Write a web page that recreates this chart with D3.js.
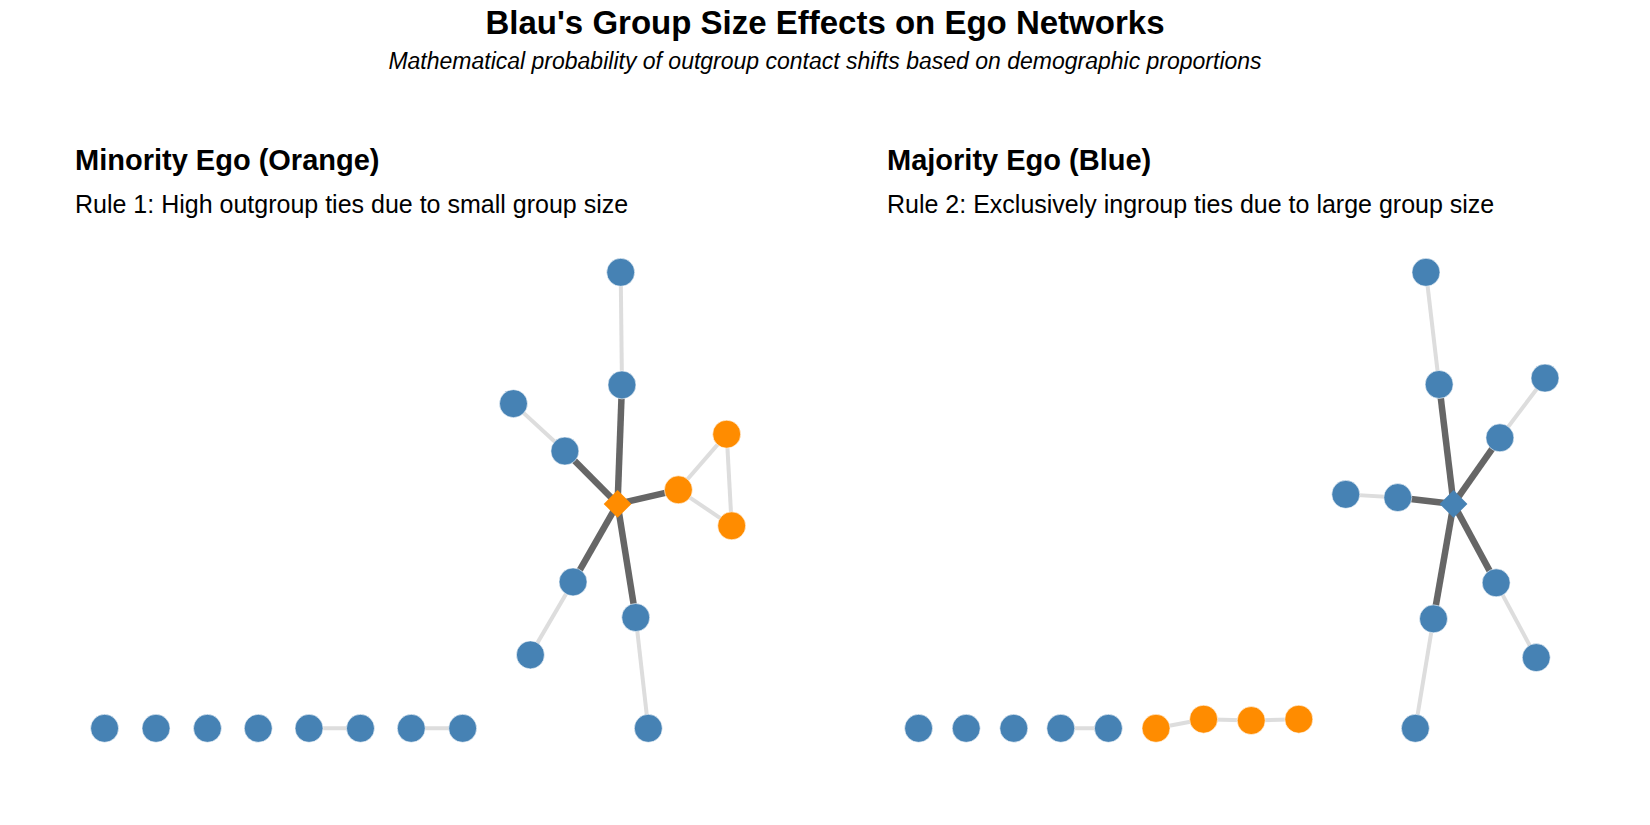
<!DOCTYPE html>
<html>
<head>
<meta charset="utf-8">
<script src="https://cdn.jsdelivr.net/npm/d3@7"></script>
<style>
  body { margin: 0; background: #fff; }
  text { font-family: "Liberation Sans", Arial, Helvetica, sans-serif; }
</style>
</head>
<body>
<div class="chart"></div>
<script>
// layout coordinates (normalised 0..1)
const minorityNodes = [
  { id: 'ego', group: 'orange', x: 0.818, y: 0.492 },
  { id: 'a1', group: 'blue', x: 0.825, y: 0.753 },
  { id: 'a2', group: 'blue', x: 0.823, y: 1.000 },
  { id: 'b1', group: 'blue', x: 0.734, y: 0.608 },
  { id: 'b2', group: 'blue', x: 0.652, y: 0.712 },
  { id: 'c1', group: 'orange', x: 0.915, y: 0.523 },
  { id: 'c2', group: 'orange', x: 0.992, y: 0.645 },
  { id: 'c3', group: 'orange', x: 1.000, y: 0.444 },
  { id: 'd1', group: 'blue', x: 0.747, y: 0.321 },
  { id: 'd2', group: 'blue', x: 0.679, y: 0.161 },
  { id: 'e1', group: 'blue', x: 0.847, y: 0.243 },
  { id: 'e2', group: 'blue', x: 0.867, y: 0.000 },
  { id: 'i1', group: 'blue', x: 0.000, y: 0.000 },
  { id: 'i2', group: 'blue', x: 0.082, y: 0.000 },
  { id: 'i3', group: 'blue', x: 0.164, y: 0.000 },
  { id: 'i4', group: 'blue', x: 0.245, y: 0.000 },
  { id: 'i5', group: 'blue', x: 0.326, y: 0.000 },
  { id: 'i6', group: 'blue', x: 0.408, y: 0.000 },
  { id: 'i7', group: 'blue', x: 0.489, y: 0.000 },
  { id: 'i8', group: 'blue', x: 0.571, y: 0.000 }
];
const minorityEdges = [
  ['ego', 'a1'], ['ego', 'b1'], ['ego', 'c1'], ['ego', 'd1'], ['ego', 'e1'],
  ['a1', 'a2'], ['b1', 'b2'], ['c1', 'c2'], ['c1', 'c3'], ['c2', 'c3'],
  ['d1', 'd2'], ['e1', 'e2'], ['i5', 'i6'], ['i7', 'i8']
];

const majorityNodes = [
  { id: 'ego', group: 'blue', x: 0.854, y: 0.492 },
  { id: 'a1', group: 'blue', x: 0.831, y: 0.754 },
  { id: 'a2', group: 'blue', x: 0.810, y: 1.000 },
  { id: 'b1', group: 'blue', x: 0.928, y: 0.637 },
  { id: 'b2', group: 'blue', x: 1.000, y: 0.768 },
  { id: 'c1', group: 'blue', x: 0.765, y: 0.506 },
  { id: 'c2', group: 'blue', x: 0.682, y: 0.513 },
  { id: 'd1', group: 'blue', x: 0.922, y: 0.319 },
  { id: 'd2', group: 'blue', x: 0.986, y: 0.155 },
  { id: 'e1', group: 'blue', x: 0.822, y: 0.240 },
  { id: 'e2', group: 'blue', x: 0.793, y: 0.000 },
  { id: 'i1', group: 'blue', x: 0.000, y: 0.000 },
  { id: 'i2', group: 'blue', x: 0.076, y: 0.000 },
  { id: 'i3', group: 'blue', x: 0.152, y: 0.000 },
  { id: 'i4', group: 'blue', x: 0.227, y: 0.000 },
  { id: 'i5', group: 'blue', x: 0.303, y: 0.000 },
  { id: 'o1', group: 'orange', x: 0.379, y: 0.000 },
  { id: 'o2', group: 'orange', x: 0.455, y: 0.020 },
  { id: 'o3', group: 'orange', x: 0.531, y: 0.017 },
  { id: 'o4', group: 'orange', x: 0.607, y: 0.020 }
];
const majorityEdges = [
  ['ego', 'a1'], ['ego', 'b1'], ['ego', 'c1'], ['ego', 'd1'], ['ego', 'e1'],
  ['a1', 'a2'], ['b1', 'b2'], ['c1', 'c2'], ['d1', 'd2'], ['e1', 'e2'],
  ['i4', 'i5'], ['o1', 'o2'], ['o2', 'o3'], ['o3', 'o4']
];

const panelTitles = ['Minority Ego (Orange)', 'Majority Ego (Blue)'];
const panelRules = [
  'Rule 1: High outgroup ties due to small group size',
  'Rule 2: Exclusively ingroup ties due to large group size'
];

const width = 1650;
const height = 825;
const colors = { blue: '#4682B4', orange: '#FF8C00' };

let svg = d3.select('.chart')
  .append('svg')
  .attr('width', width)
  .attr('height', height);

svg.append('text')
  .attr('x', width / 2)
  .attr('y', 34)
  .style('text-anchor', 'middle')
  .style('font-size', '33px')
  .style('font-weight', 'bold')
  .text("Blau's Group Size Effects on Ego Networks");

svg.append('text')
  .attr('x', width / 2)
  .attr('y', 69)
  .style('text-anchor', 'middle')
  .style('font-size', '23px')
  .style('font-style', 'italic')
  .text('Mathematical probability of outgroup contact shifts based on demographic proportions');

let panels = [
  { nodes: minorityNodes, edges: minorityEdges, left: 75, xRange: [104.6, 731.7] },
  { nodes: majorityNodes, edges: majorityEdges, left: 887, xRange: [918.6, 1545] }
];

panels.forEach((p, i) => drawPanel(p, panelTitles[i], panelRules[i]));

function drawPanel(p, title, rule) {
  let x = d3.scaleLinear().domain([0, 1]).range(p.xRange);
  let y = d3.scaleLinear().domain([0, 1]).range([728.3, 272.3]);
  let byId = new Map(p.nodes.map(d => [d.id, d]));

  svg.append('text')
    .attr('x', p.left)
    .attr('y', 170)
    .style('font-size', '29px')
    .style('font-weight', 'bold')
    .text(title);

  svg.append('text')
    .attr('x', p.left)
    .attr('y', 213)
    .style('font-size', '25px')
    .text(rule);

  let g = svg.append('g');

  // ego ties dark and thick, alter-alter ties light
  g.selectAll('.edge')
    .data(p.edges)
    .enter()
    .append('line')
    .attr('class', 'edge')
    .attr('x1', d => x(byId.get(d[0]).x))
    .attr('y1', d => y(byId.get(d[0]).y))
    .attr('x2', d => x(byId.get(d[1]).x))
    .attr('y2', d => y(byId.get(d[1]).y))
    .style('stroke', d => d[0] === 'ego' ? '#666666' : '#DDDDDD')
    .style('stroke-width', d => d[0] === 'ego' ? 6.5 : 4);

  let alters = p.nodes.filter(d => d.id !== 'ego');
  g.selectAll('.node')
    .data(alters)
    .enter()
    .append('circle')
    .attr('class', 'node')
    .attr('cx', d => x(d.x))
    .attr('cy', d => y(d.y))
    .attr('r', 14)
    .style('fill', d => colors[d.group])
    .style('stroke', '#fff')
    .style('stroke-width', 0.6);

  let ego = byId.get('ego');
  g.append('path')
    .attr('d', d3.symbol().type(d3.symbolDiamond2).size(490))
    .attr('transform', `translate(${x(ego.x)}, ${y(ego.y)})`)
    .style('fill', colors[ego.group]);
}
</script>
</body>
</html>
